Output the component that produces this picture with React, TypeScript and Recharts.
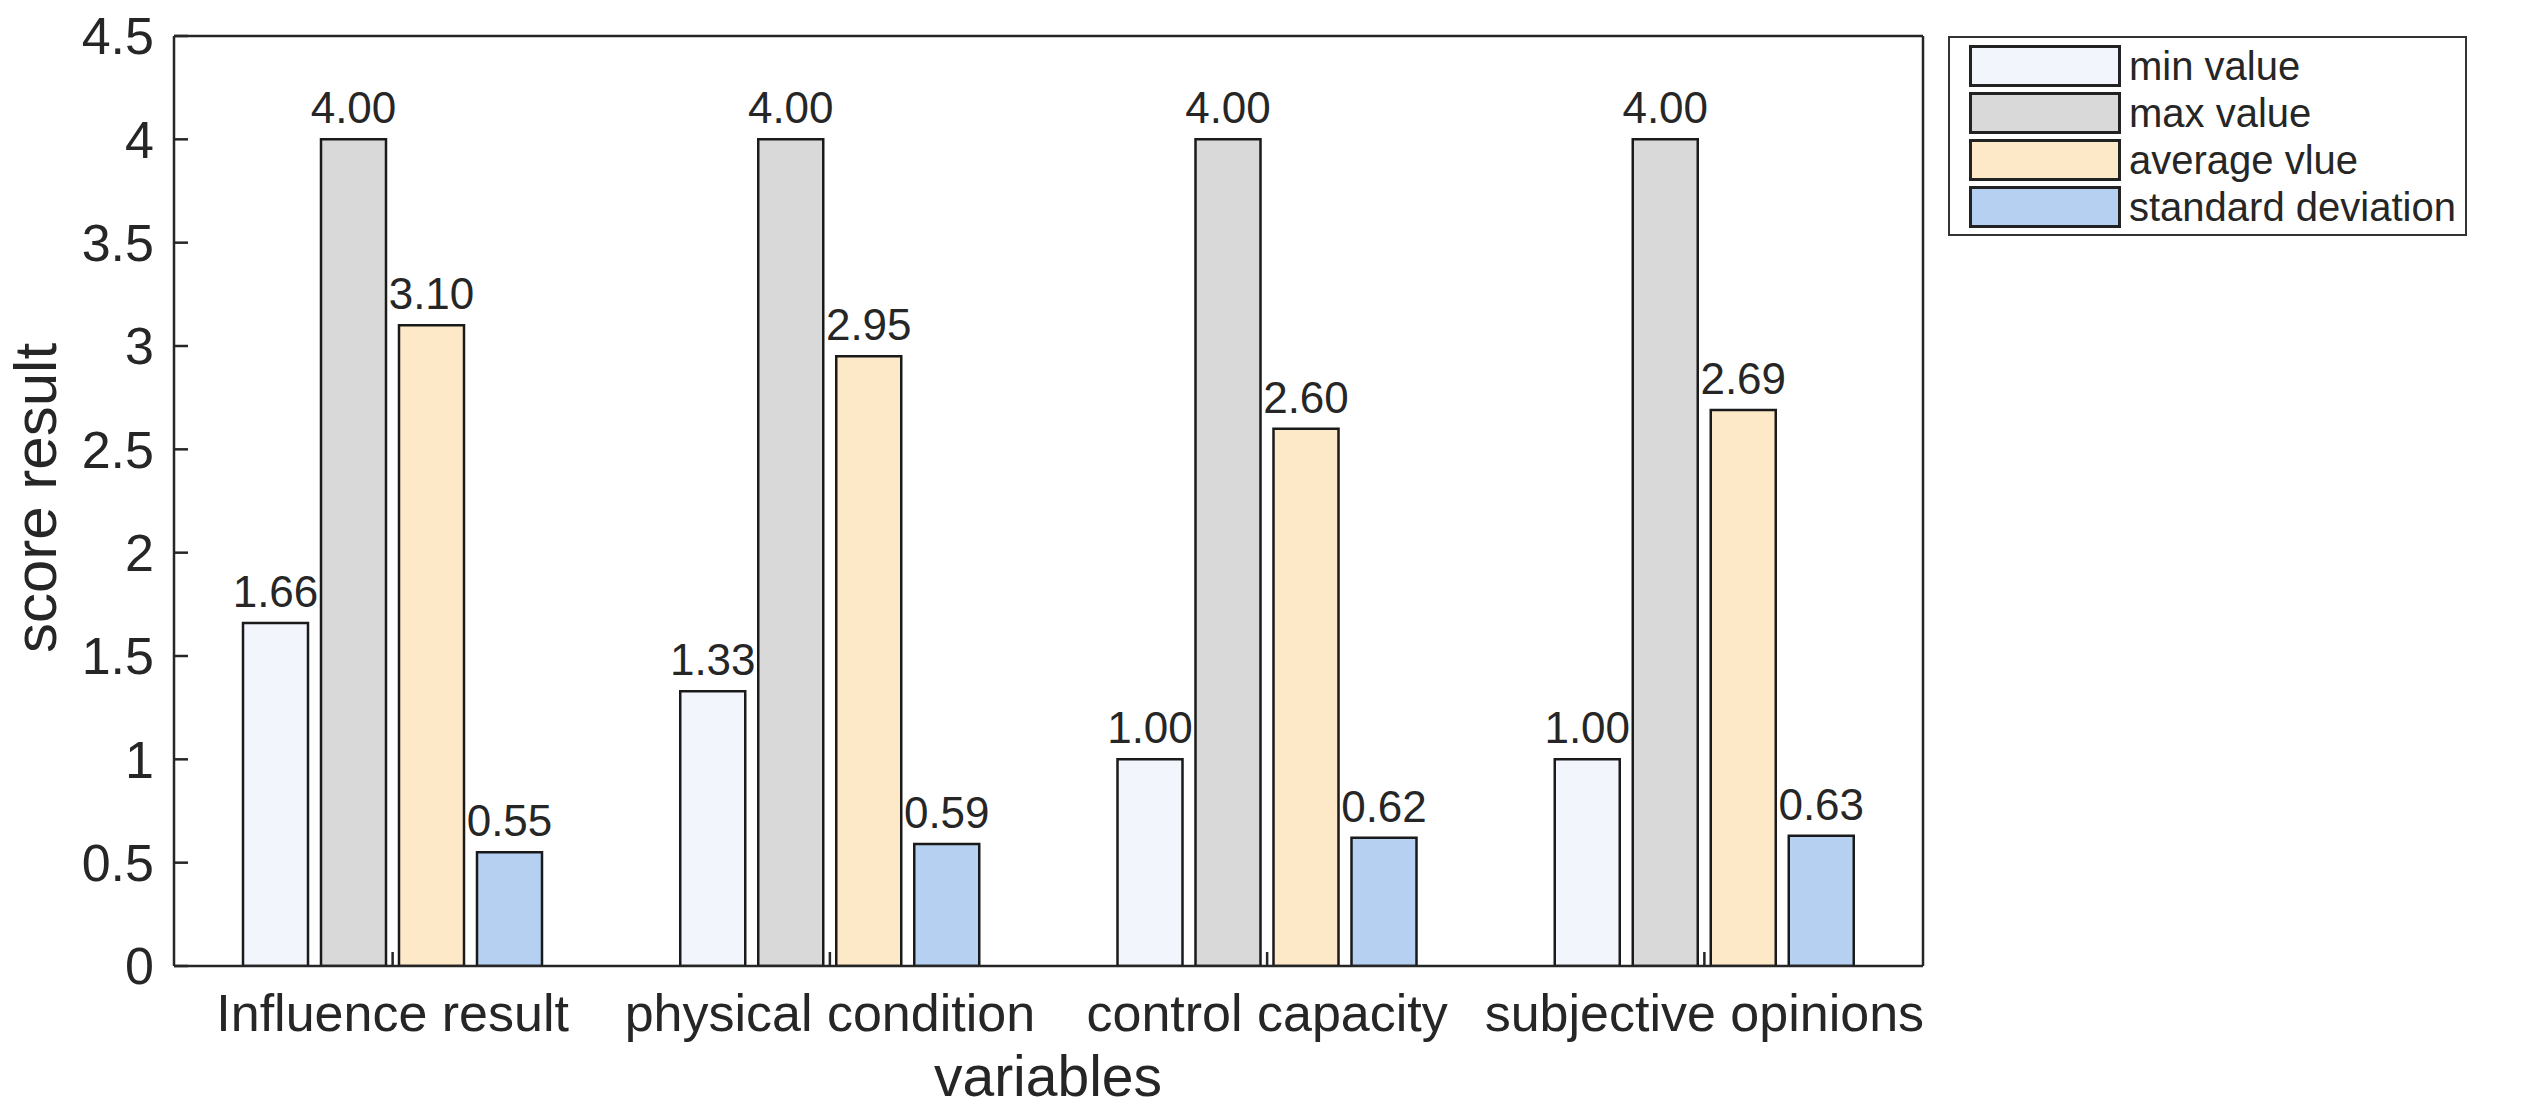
import React from 'react';
import { BarChart, Bar, XAxis, YAxis, Legend, LabelList } from 'recharts';

const categories = ['Influence result', 'physical condition', 'control capacity', 'subjective opinions'];
const minValues = [1.66, 1.33, 1.0, 1.0];
const maxValues = [4.0, 4.0, 4.0, 4.0];
const avgValues = [3.1, 2.95, 2.6, 2.69];
const stdValues = [0.55, 0.59, 0.62, 0.63];
const yTicks = [0, 0.5, 1, 1.5, 2, 2.5, 3, 3.5, 4, 4.5];

const seriesNames = ['min value', 'max value', 'average vlue', 'standard deviation'];
const seriesKeys = ['minV', 'maxV', 'avgV', 'stdV'];
const seriesColors = ['#F2F6FC', '#D9D9D9', '#FDE8C8', '#B5D0F0'];

const data = categories.map((c, i) => ({
  name: c,
  minV: minValues[i],
  maxV: maxValues[i],
  avgV: avgValues[i],
  stdV: stdValues[i],
}));

const FONT = '"Liberation Sans", Arial, sans-serif';
const TXT = '#262626';
const TICK_FS = 52;
const TITLE_FS = 57;
const YTITLE_FS = 60;
const BAR_FS = 44;
const LEG_FS = 40;

const LegendBox = () => (
  <div
    style={{
      width: 519,
      boxSizing: 'border-box',
      border: '2px solid #333',
      background: '#fff',
      padding: '4px 10px 4px 19px',
      fontFamily: FONT,
      fontSize: LEG_FS,
      color: TXT,
    }}
  >
    {seriesNames.map((n, i) => (
      <div key={n} style={{ display: 'flex', alignItems: 'center', height: 47 }}>
        <div
          style={{
            width: 152,
            height: 42,
            background: seriesColors[i],
            border: '3px solid #222',
            boxSizing: 'border-box',
            marginRight: 8,
            flex: 'none',
          }}
        />
        <span style={{ lineHeight: 1, whiteSpace: 'nowrap' }}>{n}</span>
      </div>
    ))}
  </div>
);

export default function App() {
  const W = 2530;
  const H = 1100;
  return (
    <div style={{ width: W, height: H, background: '#fff', position: 'relative' }}>
      <BarChart
        width={W}
        height={H}
        data={data}
        margin={{ top: 27, right: 614, bottom: 0, left: 0 }}
        barSize={65}
        barGap={13}
      >
        <XAxis
          dataKey="name"
          xAxisId="bottom"
          orientation="bottom"
          height={142}
          tickSize={-14}
          tickMargin={42}
          axisLine={{ stroke: TXT, strokeWidth: 2.5 }}
          tickLine={{ stroke: TXT, strokeWidth: 2.5 }}
          tick={{ fill: TXT, fontSize: TICK_FS, fontFamily: FONT }}
          interval={0}
          label={{
            content: () => (
              <text x={1040} y={1088} textAnchor="middle" fill={TXT} fontSize={TITLE_FS} fontFamily={FONT}>
                variables
              </text>
            ),
          }}
        />
        <XAxis
          dataKey="name"
          xAxisId="top"
          orientation="top"
          height={1}
          tickSize={-14}
          tick={false}
          axisLine={{ stroke: TXT, strokeWidth: 2.5 }}
          tickLine={{ stroke: TXT, strokeWidth: 2.5 }}
        />
        <YAxis
          yAxisId="left"
          orientation="left"
          width={166}
          type="number"
          domain={[0, 4.5]}
          ticks={yTicks}
          tickSize={-14}
          tickMargin={34}
          interval={0}
          allowDataOverflow
          axisLine={{ stroke: TXT, strokeWidth: 2.5 }}
          tickLine={{ stroke: TXT, strokeWidth: 2.5 }}
          tick={{ fill: TXT, fontSize: TICK_FS, fontFamily: FONT }}
          label={{
            content: () => (
              <text
                x={48}
                y={490}
                textAnchor="middle"
                transform="rotate(-90 48 490)"
                fill={TXT}
                fontSize={YTITLE_FS}
                fontFamily={FONT}
              >
                score result
              </text>
            ),
          }}
        />
        <YAxis
          yAxisId="right"
          orientation="right"
          width={1}
          type="number"
          domain={[0, 4.5]}
          ticks={yTicks}
          tickSize={-14}
          tick={false}
          interval={0}
          allowDataOverflow
          axisLine={{ stroke: TXT, strokeWidth: 2.5 }}
          tickLine={{ stroke: TXT, strokeWidth: 2.5 }}
        />
        <Legend
          layout="vertical"
          align="center"
          verticalAlign="middle"
          content={() => <LegendBox />}
          wrapperStyle={{ position: 'absolute', left: 1940, top: 28, width: 519, height: 200 }}
        />
        {seriesKeys.map((k, i) => (
          <Bar
            key={k}
            dataKey={k}
            name={seriesNames[i]}
            xAxisId="bottom"
            yAxisId="left"
            fill={seriesColors[i]}
            stroke="#1a1a1a"
            strokeWidth={2.5}
            isAnimationActive={false}
          >
            <LabelList
              dataKey={k}
              position="top"
              offset={16}
              formatter={(v: any) => Number(v).toFixed(2)}
              fill={TXT}
              fontSize={BAR_FS}
              fontFamily={FONT}
            />
          </Bar>
        ))}
      </BarChart>
    </div>
  );
}
